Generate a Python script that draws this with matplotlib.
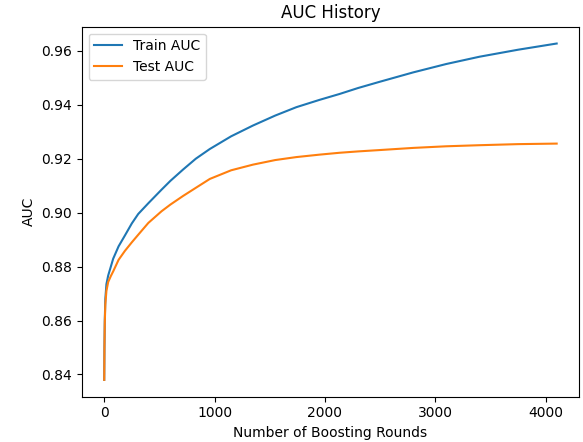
import matplotlib
matplotlib.use("Agg")
import matplotlib.pyplot as plt

rounds = [0, 2, 5, 10, 20, 36, 60, 81, 130, 187, 250, 308, 400, 519, 600, 715, 830, 957,
          1150, 1348, 1550, 1741, 1950, 2133, 2300, 2495, 2800, 3099, 3400, 3750, 4100]
train_auc = [0.838, 0.850, 0.860, 0.868, 0.8735, 0.8767, 0.8800, 0.8829, 0.8875, 0.8915,
             0.8960, 0.8995, 0.9035, 0.9085, 0.9118, 0.9160, 0.9200, 0.9236, 0.9283, 0.9323,
             0.9360, 0.9391, 0.9418, 0.9440, 0.9462, 0.9485, 0.9520, 0.9551, 0.9578, 0.9604,
             0.9627]
test_auc = [0.838, 0.850, 0.859, 0.866, 0.871, 0.8743, 0.8765, 0.8782, 0.8825, 0.8858,
            0.8890, 0.8918, 0.8962, 0.9005, 0.9030, 0.9062, 0.9092, 0.9125, 0.9157, 0.9178,
            0.9195, 0.9206, 0.9215, 0.9222, 0.9227, 0.9232, 0.9240, 0.9246, 0.9250, 0.9254,
            0.9256]

fig = plt.figure(figsize=(5.83, 4.42), dpi=100)
ax = fig.add_axes([81.6 / 583, 1 - 396.7 / 442, (579.3 - 81.6) / 583, (396.7 - 26.7) / 442])
ax.plot(rounds, train_auc, label="Train AUC")
ax.plot(rounds, test_auc, label="Test AUC")
ax.set_title("AUC History")
ax.set_xlabel("Number of Boosting Rounds")
ax.set_ylabel("AUC")
ax.set_xticks([0, 1000, 2000, 3000, 4000])
ax.legend(loc="upper left")
fig.savefig("out.png", dpi=100)
